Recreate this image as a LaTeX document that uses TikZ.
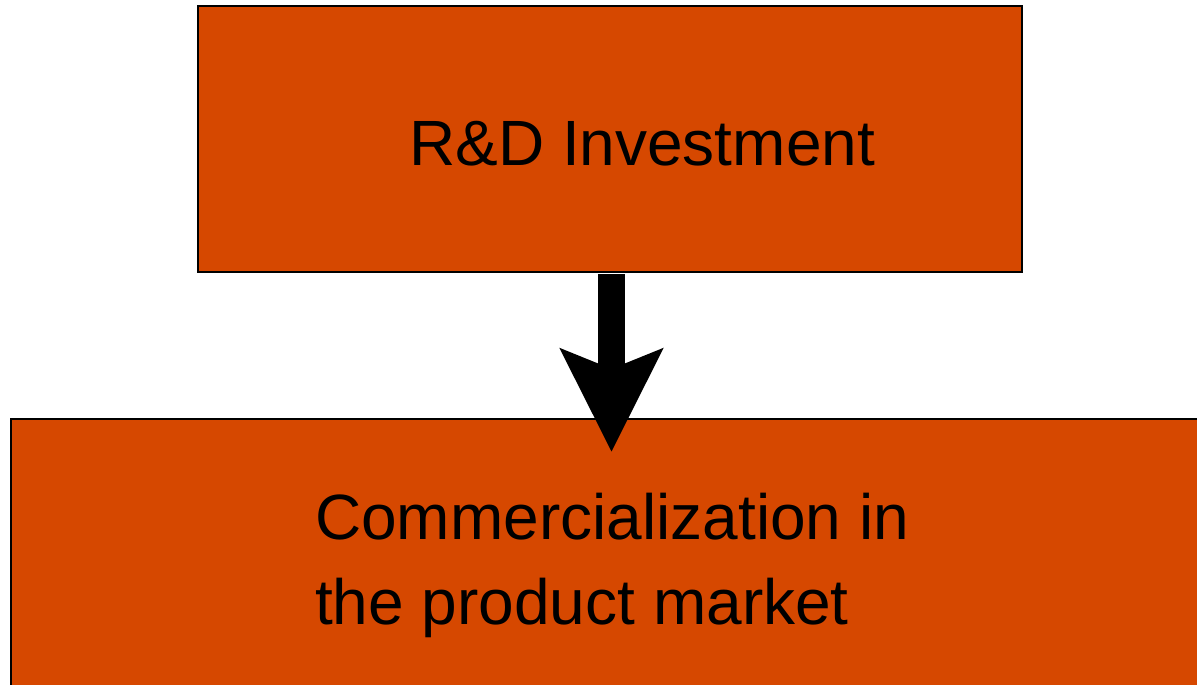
\documentclass[tikz,border=0pt]{standalone}
\usepackage{fontspec}
\setmainfont{Liberation Sans}
\usetikzlibrary{arrows.meta}
\definecolor{boxorange}{RGB}{214,72,0}

\begin{document}
\begin{tikzpicture}[x=1pt, y=-1pt,
    stagebox/.style={draw=black, line width=2pt, fill=boxorange, inner sep=0pt},
    stagetext/.style={font=\fontsize{64}{85}\selectfont, inner sep=0pt, align=left},
    flowarrow/.style={line width=27pt, -{Stealth[length=102pt, width=100pt, inset=19pt]}}]
    \useasboundingbox (0,0) rectangle (1197,685);

    % R&D stage
    \node[stagebox, minimum width=824pt, minimum height=266pt] (rd) at (610,139) {};
    \node[stagetext, anchor=base west] (rdlabel) at (409,165) {R\&D Investment};

    % market stage, runs off the right and bottom edges
    \node[stagebox, minimum width=1210pt, minimum height=300pt] (market) at (616,569) {};
    \node[stagetext, anchor=base west] (marketlabel) at (315,624) {Commercialization in\\the product market};

    % arrow from one stage to the next
    \coordinate (tip) at (611.5,452);
    \draw[flowarrow] ([yshift=-1pt]tip |- rd.south) -- (tip);
\end{tikzpicture}
\end{document}
